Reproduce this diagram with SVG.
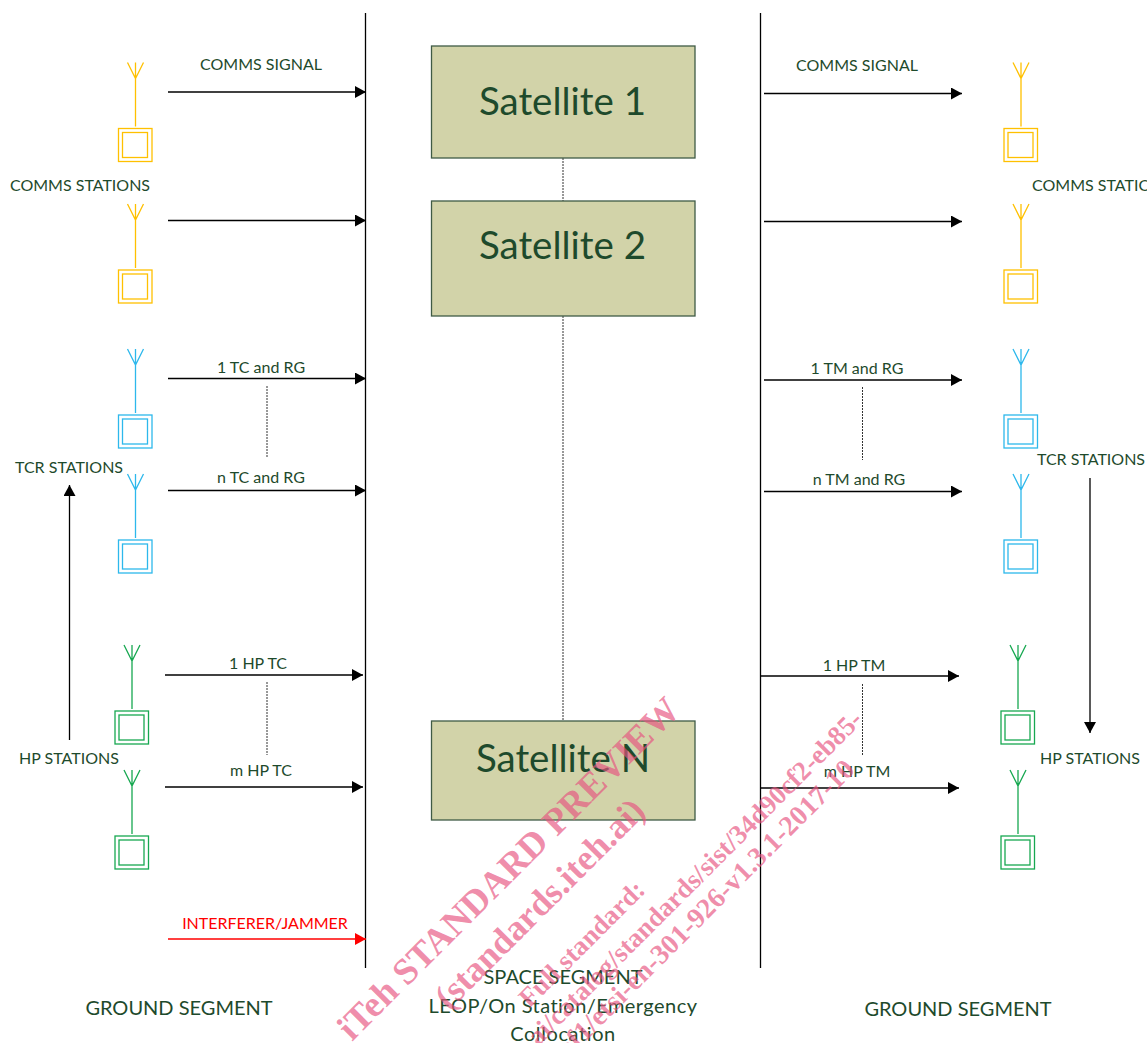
<svg xmlns="http://www.w3.org/2000/svg" width="1147" height="1043" viewBox="0 0 1147 1043">
<style>
text{font-family:Lato,"Open Sans",sans-serif;fill:#1e4a2c}
.l{font-size:16px;text-anchor:middle}
.s{font-size:38.500px;text-anchor:middle}
.b{font-size:20px;text-anchor:middle}
.c{stroke:#000;stroke-width:1.300;fill:none}
.d{stroke:#333;stroke-width:1;stroke-dasharray:2 1;fill:none}
.sat{fill:#d2d3a9;stroke:#3f5b45;stroke-width:1.300}
.ant{fill:none;stroke-width:1.300}
.y{stroke:#ffc000}.t{stroke:#2db8ec}.g{stroke:#17a851}
.w{font-family:"Liberation Serif",serif;font-weight:bold;fill:#e75480;fill-opacity:.66;text-anchor:middle}
</style>
<defs>
<marker id="a" markerUnits="userSpaceOnUse" markerWidth="11" markerHeight="12" refX="11" refY="6" orient="auto"><path d="M0 0L11 6L0 12z" fill="#000"/></marker>
<marker id="r" markerUnits="userSpaceOnUse" markerWidth="11" markerHeight="12" refX="11" refY="6" orient="auto"><path d="M0 0L11 6L0 12z" fill="#f00"/></marker>
<g id="st"><path d="M0 -66V-2M-8 -66L0 -50L8 -66M0 -66V-50"/><rect x="-17" y="0" width="33.500" height="33"/><rect x="-13" y="4" width="25" height="25"/></g>
</defs>
<g id="connectors">
<path class="c" d="M365.500 13V968M760.500 13V968"/>
<path class="c" marker-end="url(#a)" d="M168 92H366"/>
<path class="c" marker-end="url(#a)" d="M168 220.500H366"/>
<path class="c" marker-end="url(#a)" d="M168 378.500H366"/>
<path class="c" marker-end="url(#a)" d="M168 490.500H366"/>
<path class="c" marker-end="url(#a)" d="M165 675H363"/>
<path class="c" marker-end="url(#a)" d="M165 787H363"/>
<path class="c" style="stroke:#f00" marker-end="url(#r)" d="M168 939H366"/>
<path class="c" marker-end="url(#a)" d="M764 93.500H962"/>
<path class="c" marker-end="url(#a)" d="M764 221.500H962"/>
<path class="c" marker-end="url(#a)" d="M764 380H962"/>
<path class="c" marker-end="url(#a)" d="M764 491.500H962"/>
<path class="c" marker-end="url(#a)" d="M761 676H959"/>
<path class="c" marker-end="url(#a)" d="M761 788H959"/>
<path class="c" marker-end="url(#a)" d="M69.500 740V485"/>
<path class="c" marker-end="url(#a)" d="M1090 478V733"/>
<path class="d" d="M563 158V201M563 316V721M267 386V458M862.500 387V460M267 682V755M862.500 684V756"/>
</g>
<g id="sat1"><rect class="sat" x="431.500" y="46" width="263.500" height="112"/><text class="s" x="562.500" y="115">Satellite 1</text></g>
<g id="sat2"><rect class="sat" x="431.500" y="201" width="263.500" height="115"/><text class="s" x="562.500" y="259">Satellite 2</text></g>
<g id="satN"><rect class="sat" x="431.500" y="721" width="263.500" height="99"/><text class="s" x="563" y="772">Satellite N</text></g>
<g id="left-comms" class="ant y"><use href="#st" x="135.500" y="128.500"/><use href="#st" x="135.500" y="270"/></g>
<g id="left-tcr" class="ant t"><use href="#st" x="135.500" y="415"/><use href="#st" x="135.500" y="540"/></g>
<g id="left-hp" class="ant g"><use href="#st" x="132" y="711"/><use href="#st" x="132" y="836"/></g>
<g id="right-comms" class="ant y"><use href="#st" x="1021" y="128.500"/><use href="#st" x="1021" y="270"/></g>
<g id="right-tcr" class="ant t"><use href="#st" x="1021" y="415"/><use href="#st" x="1021" y="540"/></g>
<g id="right-hp" class="ant g"><use href="#st" x="1018" y="711"/><use href="#st" x="1018" y="836"/></g>
<g id="labels">
<text class="l" x="261" y="70">COMMS SIGNAL</text>
<text class="l" x="857" y="71">COMMS SIGNAL</text>
<text class="l" x="80" y="191">COMMS STATIONS</text>
<text x="1032" y="191" style="font-size:16px">COMMS STATIONS</text>
<text class="l" x="261" y="373">1 TC and RG</text>
<text class="l" x="261" y="483">n TC and RG</text>
<text class="l" x="857" y="374">1 TM and RG</text>
<text class="l" x="859" y="485">n TM and RG</text>
<text class="l" x="69" y="473">TCR STATIONS</text>
<text class="l" x="1091" y="465">TCR STATIONS</text>
<text class="l" x="258" y="669">1 HP TC</text>
<text class="l" x="261" y="776">m HP TC</text>
<text class="l" x="854" y="671">1 HP TM</text>
<text class="l" x="857" y="777">m HP TM</text>
<text class="l" x="69" y="764">HP STATIONS</text>
<text class="l" x="1090" y="764">HP STATIONS</text>
<text class="l" x="265" y="929" style="fill:#f00">INTERFERER/JAMMER</text>
<text class="b" x="179" y="1015">GROUND SEGMENT</text>
<text class="b" x="958" y="1016">GROUND SEGMENT</text>
<text class="b" x="563" y="984">SPACE SEGMENT</text>
<text class="b" x="563" y="1013" style="letter-spacing:.45px">LEOP/On Station/Emergency</text>
<text class="b" x="563" y="1041" style="letter-spacing:.6px">Collocation</text>
</g>
<g id="watermark">
<text class="w" transform="translate(517 877) rotate(-45)" style="font-size:37px">iTeh STANDARD PREVIEW</text>
<text class="w" transform="translate(548 912) rotate(-45)" style="font-size:36px">(standards.iteh.ai)</text>
<text class="w" transform="translate(588 950) rotate(-45)" style="font-size:27px">Full standard:</text>
<text class="w" transform="translate(701 884) rotate(-45)" style="font-size:27px">ai/catalog/standards/sist/34d90cf2-eb85-</text>
<text class="w" transform="translate(712 915) rotate(-45)" style="font-size:28px">af1/etsi-en-301-926-v1.3.1-2017-10</text>
</g>
</svg>
